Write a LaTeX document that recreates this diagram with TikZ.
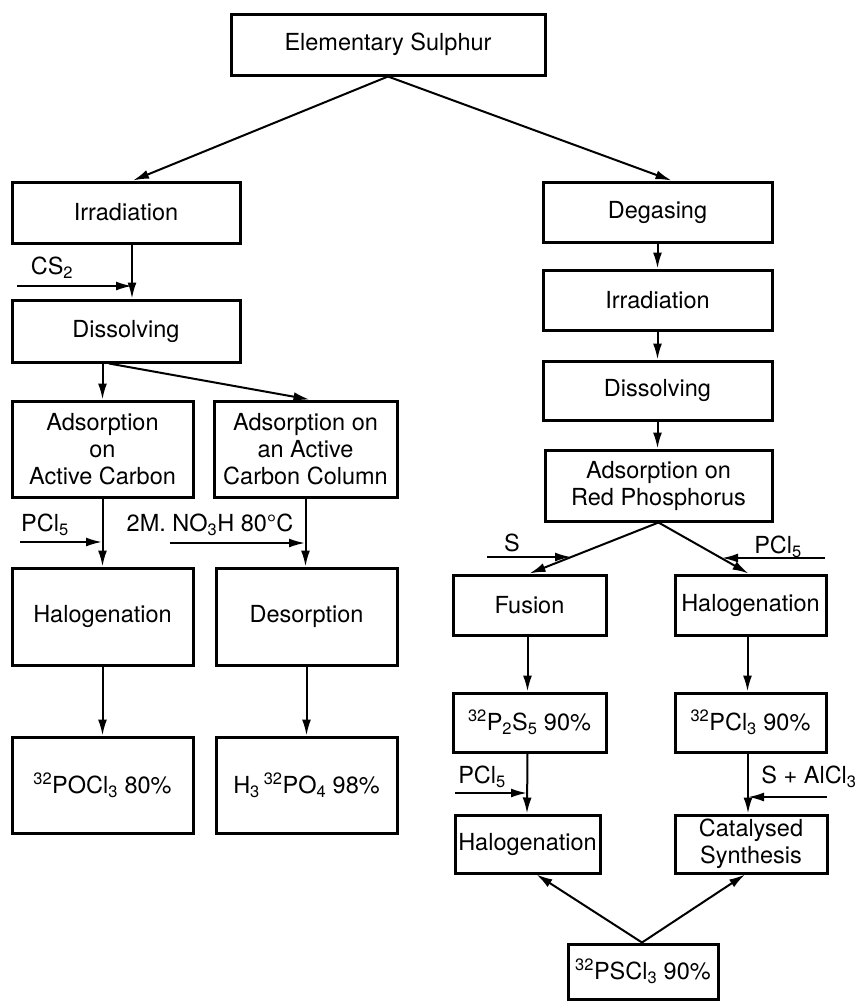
\documentclass[tikz,border=0pt]{standalone}
\usepackage{fontspec}
\setmainfont{TeX Gyre Heros}
\usetikzlibrary{arrows.meta,calc}
\begin{document}
\begin{tikzpicture}[x=1pt,y=-1pt,
  box/.style={draw,line width=3pt,inner sep=0pt,align=center,
    font=\fontsize{23.5}{27}\selectfont},
  lbl/.style={inner sep=0pt,font=\fontsize{23.5}{27}\selectfont},
  arr/.style={line width=2pt,-{Latex[length=16pt,width=9pt]}}]
\useasboundingbox (0,0) rectangle (861,1002);
% top
\node[box,minimum width=314pt,minimum height=61pt] (top) at (388,44.5) {Elementary Sulphur};
% left branch
\node[box,minimum width=228pt,minimum height=61pt] (irrL) at (126,212.5) {Irradiation};
\node[box,minimum width=228pt,minimum height=62pt] (dissL) at (126,331) {Dissolving};
\node[box,minimum width=181pt,minimum height=96pt] (adsA) at (102.5,449) {Adsorption\\on\\Active Carbon};
\node[box,minimum width=183pt,minimum height=96pt] (adsB) at (305.5,449) {Adsorption on\\an Active\\Carbon Column};
\node[box,minimum width=181pt,minimum height=97pt] (halL) at (102.5,616.5) {Halogenation};
\node[box,minimum width=181pt,minimum height=97pt] (desorp) at (306.5,616.5) {Desorption};
\node[box,minimum width=181pt,minimum height=96pt] (pocl) at (102.5,785) {\textsuperscript{32}POCl\textsubscript{3} 80\%};
\node[box,minimum width=181pt,minimum height=96pt] (hpo) at (306.5,785) {H\textsubscript{3}\,\textsuperscript{32}PO\textsubscript{4} 98\%};
% right branch
\node[box,minimum width=229pt,minimum height=60pt] (degas) at (657.5,212) {Degasing};
\node[box,minimum width=229pt,minimum height=60pt] (irrR) at (657.5,300) {Irradiation};
\node[box,minimum width=229pt,minimum height=59pt] (dissR) at (657.5,390.5) {Dissolving};
\node[box,minimum width=227pt,minimum height=71pt] (adsR) at (658.5,485.5) {Adsorption on\\Red Phosphorus};
\node[box,minimum width=153pt,minimum height=60pt] (fusion) at (529.5,605) {Fusion};
\node[box,minimum width=151pt,minimum height=60pt] (halR) at (750.5,605) {Halogenation};
\node[box,minimum width=153pt,minimum height=59pt] (pss) at (529.5,722.5) {\textsuperscript{32}P\textsubscript{2}S\textsubscript{5} 90\%};
\node[box,minimum width=151pt,minimum height=59pt] (pcl) at (750.5,722.5) {\textsuperscript{32}PCl\textsubscript{3} 90\%};
\node[box,minimum width=145pt,minimum height=58pt] (hal2) at (527.5,844) {Halogenation};
\node[box,minimum width=152pt,minimum height=58pt] (cat) at (751,844) {Catalysed\\Synthesis};
\node[box,minimum width=150pt,minimum height=55pt] (pscl) at (643,971.5) {\textsuperscript{32}PSCl\textsubscript{3} 90\%};
% labels
\node[lbl] (lcs) at (52,268) {CS\textsubscript{2}};
\node[lbl] (lpa) at (45,525) {PCl\textsubscript{5}};
\node[lbl] (lno) at (210,525) {2M. NO\textsubscript{3}H 80°C};
\node[lbl] (ls) at (512,543) {S};
\node[lbl] (lpb) at (778,547) {PCl\textsubscript{5}};
\node[lbl] (lpc) at (482,777) {PCl\textsubscript{5}};
\node[lbl] (lsal) at (809,777) {S + AlCl\textsubscript{3}};
% coordinates for free arrow ends
\coordinate (cs2a) at (17,286);   \coordinate (cs2b) at (132,286);
\coordinate (pcla) at (20,542);   \coordinate (pclb) at (102,542);
\coordinate (noa) at (170,543);   \coordinate (nob) at (305,543);
\coordinate (sa) at (487,557);    \coordinate (sb) at (571,557);
\coordinate (pra) at (825,558);   \coordinate (prb) at (722,558);
\coordinate (pca) at (455,793);   \coordinate (pcb) at (527,793);
\coordinate (saa) at (827,797);   \coordinate (sab) at (748,797);
% connectors
\draw[arr] (top.south) -- ($(irrL.north)+(7,0)$);
\draw[arr] (top.south) -- ($(degas.north)+(14,0)$);
\draw[arr] ($(irrL.south)+(6,0)$) -- ($(dissL.north)+(6,0)$);
\draw[arr] (cs2a) -- (cs2b);
\draw[arr] (adsA.north |- dissL.south) -- (adsA.north);
\draw[arr] ($(dissL.south)+(-17,0)$) -- ($(adsB.north)+(4,0)$);
\draw[arr] (adsA.south) -- (halL.north);
\draw[arr] (pcla) -- (pclb);
\draw[arr] (adsB.south) -- (adsB.south |- desorp.north);
\draw[arr] (noa) -- (nob);
\draw[arr] (halL.south) -- (pocl.north);
\draw[arr] (desorp.south) -- (hpo.north);
\draw[arr] (degas.south) -- (irrR.north);
\draw[arr] (irrR.south) -- (dissR.north);
\draw[arr] (dissR.south) -- (dissR.south |- adsR.north);
\draw[arr] (adsR.south) -- (fusion.north);
\draw[arr] (adsR.south) -- ($(halR.north)+(-2,0)$);
\draw[arr] (sa) -- (sb);
\draw[arr] (pra) -- (prb);
\draw[arr] ($(fusion.south)+(-2,0)$) -- ($(pss.north)+(-2,0)$);
\draw[arr] ($(halR.south)+(-3,0)$) -- ($(pcl.north)+(-3,0)$);
\draw[arr] ($(pss.south)+(-2,0)$) -- ($(hal2.north)+(-0.5,0)$);
\draw[arr] (pca) -- (pcb);
\draw[arr] ($(pcl.south)+(-2.5,0)$) -- ($(cat.north)+(-3,0)$);
\draw[arr] (saa) -- (sab);
\draw[arr] ($(pscl.north)+(-1,0)$) -- ($(hal2.south)+(9,0)$);
\draw[arr] ($(pscl.north)+(-1,0)$) -- ($(cat.south)+(-6,0)$);
\end{tikzpicture}
\end{document}
